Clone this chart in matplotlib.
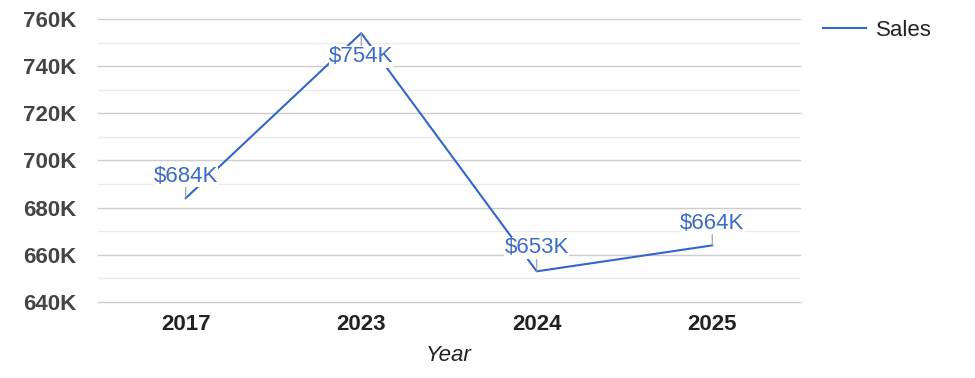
import numpy as np
import matplotlib.pyplot as plt
from matplotlib.ticker import MultipleLocator, FuncFormatter

plt.rcParams['font.family'] = ['Liberation Sans', 'DejaVu Sans']

years = ['2017', '2023', '2024', '2025']
sales = [684, 754, 653, 664]  # thousands
labels = ['$684K', '$754K', '$653K', '$664K']
label_dy = [16, -17, 17, 16]  # points above (+) / below (-) the point

line_col = '#3366cc'
text_col = '#3b6bc9'

fig = plt.figure(figsize=(9.75, 3.78), dpi=100)
ax = fig.add_axes([0.1005, 0.2011, 0.72, 0.7486])

x = np.arange(len(years))
ax.plot(x, sales, color=line_col, lw=1.5, label='Sales', zorder=3)

for xi, yi, t, dy in zip(x, sales, labels, label_dy):
    ax.annotate(t, xy=(xi, yi), xytext=(0, dy), textcoords='offset points',
                ha='center', va='center', fontsize=16, color=text_col,
                bbox=dict(boxstyle='square,pad=0.02', fc='white', ec='none'),
                arrowprops=dict(arrowstyle='-', color='#999999', lw=0.8,
                                shrinkA=0, shrinkB=0),
                zorder=4)

ax.set_xlim(-0.5, len(years) - 0.5)
ax.set_ylim(640, 760)
ax.set_xticks(x)
ax.set_xticklabels(years, fontsize=16, fontweight='bold', color='#222222')
ax.yaxis.set_major_locator(MultipleLocator(20))
ax.yaxis.set_minor_locator(MultipleLocator(10))
ax.yaxis.set_major_formatter(FuncFormatter(lambda v, p: f'{int(v)}K'))
for lab in ax.get_yticklabels():
    lab.set_fontsize(16)
    lab.set_fontweight('bold')
    lab.set_color('#444444')
ax.tick_params(axis='both', which='both', length=0)
ax.tick_params(axis='y', pad=15.5)
ax.tick_params(axis='x', pad=9)
ax.grid(axis='y', which='major', color='#cccccc', lw=1)
ax.grid(axis='y', which='minor', color='#ebebeb', lw=1)
for gl in ax.get_ygridlines():
    gl.set_clip_on(False)
ax.set_axisbelow(True)
for s in ax.spines.values():
    s.set_visible(False)

ax.set_xlabel('Year', fontsize=16, style='italic', color='#222222', labelpad=7)

fig.legend(loc='upper left', bbox_to_anchor=(0.824, 1.0), frameon=False,
           fontsize=16, handlelength=1.9, handletextpad=0.45,
           labelcolor='#222222')

fig.savefig('out.png', dpi=100)
